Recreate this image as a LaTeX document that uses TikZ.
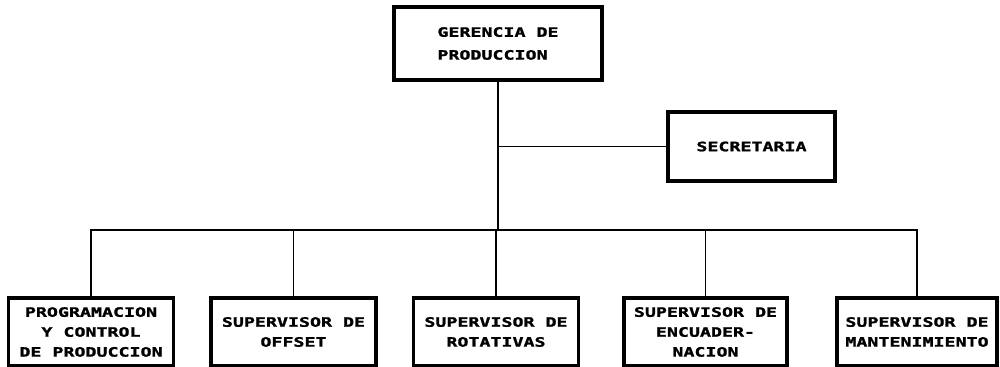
\documentclass[tikz,border=0pt]{standalone}
\usepackage{fontspec}
\usepackage{tikz}
\usetikzlibrary{positioning, calc}
\newfontfamily\orgfont[FakeStretch=1.42,FakeBold=1.5]{DejaVu Sans Mono Bold}

\begin{document}
\begin{tikzpicture}[
    caja/.style={rectangle,draw=black,line width=3pt,minimum width=4.95cm,minimum height=2.04cm,align=center,font=\orgfont\fontsize{11}{17}\selectfont},
    linea/.style={draw=black,line width=0.9pt}
]
    \useasboundingbox (0,0) rectangle (30,11.01);
    % Gerencia
    \node[caja,minimum width=6.24cm,minimum height=2.19cm,align=left,font=\orgfont\fontsize{11}{19.5}\selectfont] (ger) at (14.94,9.705) {
        GERENCIA DE \\
        PRODUCCION
    };
    % Secretaria
    \node[caja,minimum width=5.01cm,minimum height=2.07cm] (secr) at (22.545,6.615) {SECRETARIA};
    % Supervisores
    \node[caja] (prog) at (2.73,1.05) {PROGRAMACION \\ Y CONTROL \\ DE PRODUCCION};
    \node[caja] (offs) at (8.805,1.05) {SUPERVISOR DE \\ OFFSET};
    \node[caja] (rota) at (14.88,1.05) {SUPERVISOR DE \\ ROTATIVAS};
    \node[caja,minimum width=4.89cm] (encu) at (21.165,1.05) {SUPERVISOR DE \\ ENCUADER- \\ NACION};
    \node[caja,minimum width=4.8cm] (mant) at (27.51,1.05) {SUPERVISOR DE \\ MANTENIMIENTO};

    % Lineas
    \coordinate (busl) at (prog.north |- 0,4.11);
    \coordinate (busr) at (mant.north |- 0,4.11);
    \draw[linea] (ger.south) -- (ger.south |- busl);
    \draw[linea] (ger.south |- secr.west) -- (secr.west);
    \draw[linea] (prog.north) -- (busl) -- (busr) -- (mant.north);
    \draw[linea] (offs.north) -- (offs.north |- busl);
    \draw[linea] (rota.north) -- (rota.north |- busl);
    \draw[linea] (encu.north) -- (encu.north |- busl);
\end{tikzpicture}
\end{document}
